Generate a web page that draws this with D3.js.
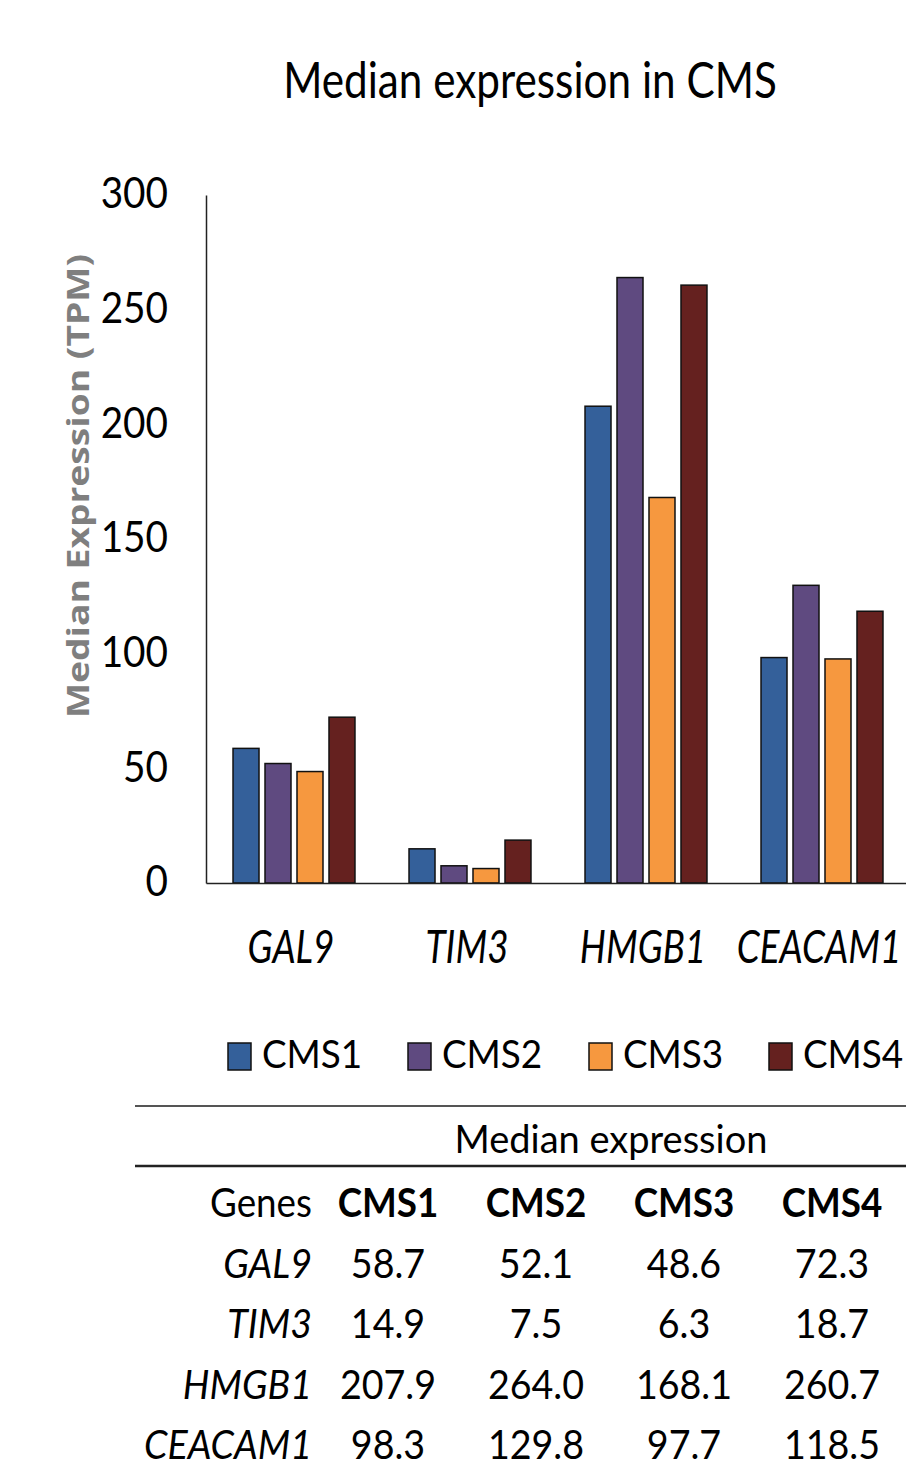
<!DOCTYPE html>
<html>
<head>
<meta charset="utf-8">
<script src="https://cdn.jsdelivr.net/npm/d3@7"></script>
<style>
  body { margin: 0; background: #fff; }
  text { font-family: Lato, "Open Sans", sans-serif; fill: #000; }
</style>
</head>
<body>
<script>
// Data
var genes = ["GAL9", "TIM3", "HMGB1", "CEACAM1"];
var groups = ["CMS1", "CMS2", "CMS3", "CMS4"];
var cms1 = [58.7, 14.9, 207.9, 98.3];
var cms2 = [52.1, 7.5, 264.0, 129.8];
var cms3 = [48.6, 6.3, 168.1, 97.7];
var cms4 = [72.3, 18.7, 260.7, 118.5];
var yTicks = [0, 50, 100, 150, 200, 250, 300];
var colors = ["#34609a", "#5f4a80", "#f6983f", "#65211f"];

var series = [cms1, cms2, cms3, cms4];

var svg = d3.select("body")
    .append("svg")
    .attr("width", 906)
    .attr("height", 1468);

// squeeze text horizontally, the source picture is stretched vertically
function squeeze(sel, k) {
    sel.each(function() {
        var w = this.getComputedTextLength();
        d3.select(this)
            .attr("textLength", w * k)
            .attr("lengthAdjust", "spacingAndGlyphs");
    });
}

// Scales
var x0 = d3.scaleBand()
    .domain(genes)
    .range([206, 910])
    .paddingInner(0.307)
    .paddingOuter(0.1535);

var x1 = d3.scaleBand()
    .domain(groups)
    .range([0, x0.bandwidth()])
    .paddingInner(0.1875);

var y = d3.scaleLinear()
    .domain([0, 300])
    .range([883, 195]);

// Title
var title = svg.append("text")
    .attr("x", 530)
    .attr("y", 98)
    .attr("text-anchor", "middle")
    .style("font-size", "50px")
    .text("Median expression in CMS");
squeeze(title, 0.845);

// Y axis
var yAxis = svg.append("g")
    .attr("transform", "translate(206,0)")
    .call(d3.axisLeft(y).tickValues(yTicks).tickSize(0).tickPadding(38));
yAxis.select(".domain").attr("stroke", "#222").attr("stroke-width", 1.5);
yAxis.selectAll("text")
    .style("font-size", "43px")
    .attr("dy", "0.3em");
squeeze(yAxis.selectAll("text"), 0.9);

// Y label
svg.append("text")
    .attr("transform", "translate(89,486) rotate(-90)")
    .attr("text-anchor", "middle")
    .style("font-family", "'Open Sans', sans-serif")
    .style("font-size", "31px")
    .style("font-weight", "bold")
    .style("fill", "#7f7f7f")
    .attr("textLength", 464)
    .attr("lengthAdjust", "spacingAndGlyphs")
    .text("Median Expression (TPM)");

// Bars
var gene = svg.selectAll(".gene")
    .data(genes)
    .enter()
    .append("g")
    .attr("class", "gene")
    .attr("transform", d => `translate(${x0(d)},0)`);

gene.selectAll("rect")
    .data((d, i) => groups.map((g, j) => ({g: g, j: j, v: series[j][i]})))
    .enter()
    .append("rect")
    .attr("x", d => x1(d.g))
    .attr("y", d => y(d.v))
    .attr("width", x1.bandwidth())
    .attr("height", d => y(0) - y(d.v))
    .attr("fill", d => colors[d.j])
    .attr("stroke", "#111")
    .attr("stroke-width", 1.5);

// X axis
var xAxis = svg.append("g")
    .attr("transform", "translate(0,883)")
    .call(d3.axisBottom(x0).tickSize(0).tickSizeOuter(0));
xAxis.select(".domain").attr("stroke", "#222").attr("stroke-width", 1.5);
xAxis.selectAll("text")
    .attr("y", 80)
    .attr("dy", 0)
    .attr("dx", -3)
    .style("font-size", "46px")
    .style("font-style", "italic");
squeeze(xAxis.selectAll("text"), 0.8);

// Legend
var legendX = [228, 408, 589, 769];
var legend = svg.selectAll(".legend")
    .data(groups)
    .enter()
    .append("g")
    .attr("class", "legend")
    .attr("transform", (d, i) => `translate(${legendX[i]},1043)`);

legend.append("rect")
    .attr("width", 23)
    .attr("height", 27)
    .attr("fill", (d, i) => colors[i])
    .attr("stroke", "#111")
    .attr("stroke-width", 1.5);

var legText = legend.append("text")
    .attr("x", 34)
    .attr("y", 25)
    .style("font-size", "38px")
    .text(d => d);
squeeze(legText, 0.97);

// Table
svg.append("line")
    .attr("x1", 135).attr("x2", 906)
    .attr("y1", 1106).attr("y2", 1106)
    .attr("stroke", "#555").attr("stroke-width", 2);

var sub = svg.append("text")
    .attr("x", 611)
    .attr("y", 1153)
    .attr("text-anchor", "middle")
    .style("font-size", "38px")
    .text("Median expression");
squeeze(sub, 1.0);

svg.append("line")
    .attr("x1", 135).attr("x2", 906)
    .attr("y1", 1166).attr("y2", 1166)
    .attr("stroke", "#222").attr("stroke-width", 2.5);

var colX = d3.scalePoint()
    .domain(groups)
    .range([388, 832]);

var rowY = d3.scalePoint()
    .domain(["Genes"].concat(genes))
    .range([1217, 1459]);

var head = svg.append("g");
head.append("text")
    .attr("x", 312)
    .attr("y", rowY("Genes"))
    .attr("text-anchor", "end")
    .style("font-size", "40px")
    .text("Genes");
head.selectAll(".hd")
    .data(groups)
    .enter()
    .append("text")
    .attr("x", d => colX(d))
    .attr("y", rowY("Genes"))
    .attr("text-anchor", "middle")
    .style("font-size", "40px")
    .style("font-weight", "bold")
    .text(d => d);
squeeze(head.selectAll("text"), 0.92);

var rows = svg.selectAll(".row")
    .data(genes)
    .enter()
    .append("g")
    .attr("class", "row");

rows.append("text")
    .attr("x", 312)
    .attr("y", d => rowY(d))
    .attr("text-anchor", "end")
    .style("font-size", "40px")
    .style("font-style", "italic")
    .text(d => d);

rows.selectAll(".val")
    .data((d, i) => groups.map((g, j) => ({g: g, v: series[j][i], gene: d})))
    .enter()
    .append("text")
    .attr("x", d => colX(d.g))
    .attr("y", d => rowY(d.gene))
    .attr("text-anchor", "middle")
    .style("font-size", "40px")
    .text(d => d.v.toFixed(1));
squeeze(rows.selectAll("text"), 0.94);
</script>
</body>
</html>
